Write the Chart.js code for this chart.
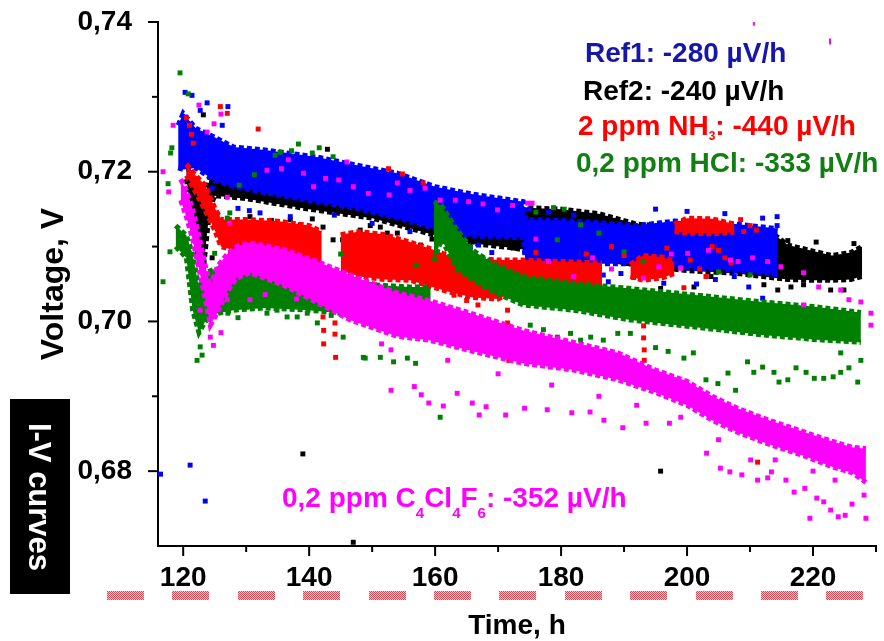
<!DOCTYPE html>
<html>
<head>
<meta charset="utf-8">
<title>Voltage vs time</title>
<script src="https://cdn.jsdelivr.net/npm/chart.js@4.4.1/dist/chart.umd.min.js"></script>
<style>
  html, body { margin: 0; padding: 0; background: #fff; }
  canvas { display: block; }
</style>
</head>
<body>
<canvas id="chart" width="884" height="641"></canvas>
<script>
// Axis ticks
const xTickValues = [120, 140, 160, 180, 200, 220];
const xMinorValues = [130, 150, 170, 190, 210, 230];
const yTickValues = [0.68, 0.70, 0.72, 0.74];
const yTickLabels = ['0,68', '0,70', '0,72', '0,74'];
const yMinorValues = [0.69, 0.71, 0.73];

// Ref1 (blue) dense band: time, upper and lower edge
const ref1Time = [119.2, 120, 122, 125, 128, 133, 141, 148, 154, 160, 166, 174, 174.4, 180, 186, 192, 198, 204, 210, 214.4];
const ref1Hi = [0.7262, 0.7278, 0.7258, 0.7246, 0.7233, 0.7229, 0.7220, 0.7208, 0.7198, 0.7180, 0.7170, 0.7160, 0.7136, 0.7135, 0.7132, 0.7128, 0.7134, 0.7133, 0.7128, 0.7124];
const ref1Lo = [0.7205, 0.7203, 0.7205, 0.7188, 0.7180, 0.7172, 0.7160, 0.7150, 0.7138, 0.7124, 0.7114, 0.7112, 0.7073, 0.7076, 0.7077, 0.7077, 0.7072, 0.7070, 0.7066, 0.7062];

// Ref2 (black)
const ref2Time = [120.5, 122.4, 123.2, 124.2, 125, 130, 140, 150, 160, 166, 172.5, 174.5, 180, 186, 192, 200, 208, 214, 216, 220, 223, 226, 227.8];
const ref2Hi = [0.7210, 0.7185, 0.7160, 0.7190, 0.7195, 0.7185, 0.7168, 0.7155, 0.7140, 0.7135, 0.7140, 0.7152, 0.7150, 0.7144, 0.7130, 0.7125, 0.7120, 0.7115, 0.7102, 0.7094, 0.7088, 0.7092, 0.7100];
const ref2Lo = [0.7190, 0.7085, 0.7070, 0.7150, 0.7168, 0.7164, 0.7150, 0.7138, 0.7115, 0.7104, 0.7098, 0.7095, 0.7090, 0.7085, 0.7075, 0.7068, 0.7064, 0.7058, 0.7056, 0.7055, 0.7055, 0.7056, 0.7060];

// 2 ppm NH3 (red), several runs
const nh3TimeA = [120.5, 122, 123.5, 125, 126, 130, 135, 140, 142];
const nh3HiA = [0.7210, 0.7195, 0.7182, 0.7152, 0.7136, 0.7136, 0.7134, 0.7128, 0.7120];
const nh3LoA = [0.7195, 0.7172, 0.7148, 0.7122, 0.7100, 0.7090, 0.7088, 0.7085, 0.7070];
const nh3TimeB = [145, 148, 152, 156, 160, 162, 166, 170, 174, 180, 186.5];
const nh3HiB = [0.7116, 0.7120, 0.7116, 0.7106, 0.7095, 0.7088, 0.7085, 0.7082, 0.7082, 0.7080, 0.7078];
const nh3LoB = [0.7068, 0.7060, 0.7056, 0.7055, 0.7045, 0.7040, 0.7032, 0.7030, 0.7045, 0.7045, 0.7045];
const nh3TimeC = [191, 193, 196, 198];
const nh3HiC = [0.7076, 0.7088, 0.7086, 0.7080];
const nh3LoC = [0.7060, 0.7055, 0.7058, 0.7064];
const nh3TimeD = [198, 200, 204, 207.5];
const nh3HiD = [0.7130, 0.7138, 0.7137, 0.7130];
const nh3LoD = [0.7120, 0.7118, 0.7117, 0.7119];

// 0,2 ppm HCl (green)
const hclTimeA = [118.8, 120.5, 121.5, 122.5, 123.5, 125, 128, 133, 140, 146, 152, 156, 159.3];
const hclHiA = [0.7128, 0.7115, 0.7090, 0.7045, 0.7065, 0.7070, 0.7068, 0.7065, 0.7058, 0.7052, 0.7048, 0.7046, 0.7046];
const hclLoA = [0.7100, 0.7085, 0.7015, 0.6985, 0.7000, 0.7010, 0.7015, 0.7018, 0.7015, 0.7010, 0.7005, 0.7002, 0.7000];
const hclTimeB = [159.8, 161, 163.5, 166, 169, 174, 182, 191, 201.7, 212, 220, 227.6];
const hclHiB = [0.7160, 0.7155, 0.7122, 0.7095, 0.7078, 0.7060, 0.7051, 0.7044, 0.7035, 0.7026, 0.7020, 0.7012];
const hclLoB = [0.7080, 0.7110, 0.7069, 0.7055, 0.7040, 0.7022, 0.7015, 0.7002, 0.6992, 0.6982, 0.6976, 0.6972];

// 0,2 ppm C4Cl4F6 (magenta)
const c4Time = [119.6, 120.5, 121.5, 122.5, 123.5, 124.3, 125.4, 127, 128.5, 130.6, 136, 141.3, 146.5, 154, 159, 166, 174, 182, 189, 195, 200, 204, 208, 213, 218.7, 223, 226.2, 228.4];
const c4Hi = [0.7190, 0.7175, 0.7150, 0.7115, 0.7075, 0.7046, 0.7073, 0.7090, 0.7100, 0.7105, 0.7096, 0.7080, 0.7062, 0.7038, 0.7028, 0.7010, 0.6988, 0.6972, 0.6958, 0.6935, 0.6920, 0.6900, 0.6884, 0.6868, 0.6852, 0.6840, 0.6832, 0.6830];
const c4Lo = [0.7162, 0.7140, 0.7110, 0.7070, 0.7030, 0.6995, 0.7011, 0.7040, 0.7058, 0.7065, 0.7048, 0.7025, 0.7002, 0.6980, 0.6975, 0.6960, 0.6944, 0.6935, 0.6922, 0.6905, 0.6888, 0.6868, 0.6852, 0.6836, 0.6820, 0.6806, 0.6798, 0.6785];

// scattered readings outside the dense bands [time, voltage]
const ref1Extra = [[116.4, 0.6796], [121.1, 0.6808], [123.5, 0.6760], [120.3, 0.7306], [121.4, 0.7302], [123.8, 0.7292], [127.1, 0.7287], [126.2, 0.7262], [122.7, 0.7282],
  [128.7, 0.7151], [130.5, 0.7148], [132.2, 0.7145], [137, 0.7140], [125.4, 0.7140], [126.4, 0.7122], [124.6, 0.7178], [144, 0.7142], [150, 0.7131], [156, 0.7120], [162, 0.7108],
  [165.6, 0.7099], [166.9, 0.7102], [169, 0.7092], [171.6, 0.7079], [179.4, 0.7073], [181.5, 0.7059], [183.5, 0.7066], [185.2, 0.7059], [186.7, 0.7062], [187.5, 0.7053],
  [189.5, 0.7064], [191.5, 0.7059], [196.3, 0.7051], [201.5, 0.7050], [204.5, 0.7056], [207.5, 0.7060], [209.8, 0.7046], [210.1, 0.7024], [212, 0.7031],
  [175, 0.7150], [178, 0.7146], [182, 0.7142], [195, 0.7150], [200, 0.7147], [206, 0.7144], [212, 0.7138], [214.3, 0.7140], [214.3, 0.7128]];
const ref2Extra = [[139, 0.6823], [195.8, 0.6800], [147, 0.6705], [123.2, 0.7276], [142.9, 0.7230], [130.6, 0.7140], [132.2, 0.7166], [134, 0.7135], [135.4, 0.7129],
  [137, 0.7136], [138.6, 0.7129], [140.5, 0.7137], [142.2, 0.7126], [143.8, 0.7109], [145.3, 0.7109], [146.5, 0.7109], [148.1, 0.7122], [149.7, 0.7128], [151.3, 0.7126],
  [152.4, 0.7118], [154, 0.7118], [124.6, 0.7085], [157.7, 0.7102], [159.5, 0.7110], [161.3, 0.7113], [163.5, 0.7110], [165.3, 0.7091], [165.9, 0.7106], [168.3, 0.7109],
  [170.9, 0.7106], [172.4, 0.7098], [195.8, 0.7044], [201.1, 0.7046], [203.8, 0.7060], [212.2, 0.7049], [214.4, 0.7042], [216.5, 0.7046], [218.5, 0.7049], [222.8, 0.7042],
  [224.9, 0.7042], [220.5, 0.7106], [216, 0.7108], [226.5, 0.7104]];
const nh3Extra = [[120.5, 0.7272], [121, 0.7262], [121.3, 0.7250], [121.6, 0.7238], [125.9, 0.7287], [127, 0.7278], [131.9, 0.7257], [152.6, 0.7204], [154.8, 0.7197], [158.1, 0.7185],
  [142.1, 0.7060], [142.1, 0.7042], [142.2, 0.7024], [142.2, 0.7006], [142.3, 0.6988], [142.3, 0.6970], [144.1, 0.6998], [144.1, 0.6983], [144.2, 0.6952],
  [166.8, 0.7040], [166.8, 0.7022], [166.9, 0.7004], [166.9, 0.6988], [167, 0.6972],
  [171.5, 0.7015], [171.5, 0.6998], [171.6, 0.6980], [171.6, 0.6964], [171.7, 0.6948],
  [193, 0.7030], [193, 0.7012], [193.1, 0.6994], [193.1, 0.6978], [193.2, 0.6962], [193.2, 0.6948], [211.2, 0.6812],
  [188, 0.7100], [190, 0.7088], [205, 0.7095], [207, 0.7078], [209, 0.7120], [203, 0.7060], [199.5, 0.7045], [176, 0.7092], [184, 0.7090],
  [194.5, 0.7070], [196.8, 0.7098], [200.5, 0.7082], [202, 0.7070], [204, 0.7100], [206, 0.7085], [208.5, 0.7136], [210, 0.7128], [211, 0.7122],
  [163, 0.7035], [165, 0.7028], [146, 0.7050], [150, 0.7045], [138, 0.7075], [134, 0.7080], [129, 0.7085], [127.5, 0.7092]];
const hclExtra = [[119.5, 0.7332], [120.8, 0.7304], [118.2, 0.7232], [118, 0.7225], [117.6, 0.7184], [116.8, 0.7053], [117.9, 0.7093], [138.3, 0.7237], [140.5, 0.7225],
  [141.6, 0.7232], [137.2, 0.7228], [135.4, 0.7226], [131.3, 0.7196], [128.9, 0.7182], [127, 0.7138], [134.6, 0.7222], [143.8, 0.7220], [127.4, 0.7145],
  [125, 0.7091], [127, 0.7053], [125.9, 0.7033], [127.1, 0.7011], [128.7, 0.7005], [130.1, 0.7019], [132.2, 0.7026], [133.3, 0.7011], [134.9, 0.7015], [136.5, 0.7006],
  [138.1, 0.7006], [139.7, 0.7011], [141.3, 0.6998], [143.5, 0.7008], [145.4, 0.6979], [148.6, 0.6952], [151.3, 0.6952], [122.7, 0.6966], [123, 0.6955], [122.2, 0.6948],
  [148.9, 0.6951], [153.4, 0.6946], [155.6, 0.6951], [156.9, 0.6944], [160.8, 0.6872],
  [165.1, 0.6999], [166.1, 0.6989], [167.2, 0.6984], [168.8, 0.6986], [170.4, 0.6982], [172, 0.6975], [173.6, 0.6975], [175.1, 0.6995], [177.2, 0.6989], [179.4, 0.6979],
  [181.5, 0.6984], [183.1, 0.6975], [184.7, 0.6979], [186.7, 0.6975], [189, 0.6984], [191, 0.6984],
  [199.5, 0.6951], [203, 0.6922], [204.9, 0.6917], [206.5, 0.6931], [207.7, 0.6908], [209.6, 0.6946], [210.6, 0.6932], [212, 0.6939], [213.8, 0.6932], [216, 0.6922],
  [217.3, 0.6938], [218.9, 0.6932], [220.2, 0.6924], [221.7, 0.6924], [223.2, 0.6926], [224.4, 0.6932], [225.7, 0.6938], [227.1, 0.6919], [224.4, 0.6958], [214.6, 0.6919],
  [227.6, 0.6948], [195, 0.6965], [197, 0.6960], [201, 0.6958],
  [178.8, 0.7152], [180.5, 0.7150], [183.1, 0.7129], [179.4, 0.7109], [176, 0.7146], [186, 0.7118], [190, 0.7093], [193, 0.7080], [199, 0.7072], [205, 0.7066], [210, 0.7062],
  [130, 0.7080], [145, 0.7090], [157, 0.7075]];
const c4Extra = [[118.4, 0.7262], [116.8, 0.7200], [117.7, 0.7173], [122.5, 0.7289], [126, 0.7277], [124.9, 0.7264], [123.8, 0.7253], [127, 0.7166], [127.4, 0.7131],
  [133.3, 0.7202], [135.6, 0.7204], [136.7, 0.7216], [139.1, 0.7198], [140.7, 0.7180], [142.6, 0.7191], [144.7, 0.7189], [146, 0.7213], [147, 0.7180], [149.4, 0.7171],
  [152.7, 0.7169], [154, 0.7185], [156, 0.7175], [158.4, 0.7178], [160.8, 0.7162], [163.2, 0.7162], [165.3, 0.7160], [167.6, 0.7157], [169.9, 0.7149], [172.3, 0.7155],
  [174.7, 0.7158], [175.4, 0.7158], [193.1, 0.7058], [195.5, 0.7073], [197.5, 0.7090], [199, 0.7071], [200.1, 0.7091], [203.4, 0.7095], [206.9, 0.7082], [208.1, 0.7080],
  [210.4, 0.7085], [212.8, 0.7080], [214.9, 0.7073], [218.5, 0.7065], [220.9, 0.7046], [224.4, 0.7042], [225.7, 0.7029], [227.6, 0.7026], [229.2, 0.7011], [229.2, 0.6995],
  [218.5, 0.7022], [176, 0.7110], [178, 0.7080], [182, 0.7060], [188, 0.7070], [185, 0.7085],
  [122.7, 0.7015], [124.3, 0.6979], [124.8, 0.6968], [127, 0.7029], [130.6, 0.7029], [133, 0.7036], [138, 0.7030], [126, 0.6985], [151.5, 0.6970], [153, 0.6962],
  [153, 0.6908], [156.7, 0.6913], [157.8, 0.6902], [159, 0.6891], [161.3, 0.6887], [163.5, 0.6904], [165.9, 0.6891], [167, 0.6875], [168.1, 0.6886], [171.2, 0.6875],
  [174.2, 0.6884], [177.8, 0.6882], [181.7, 0.6878], [184.6, 0.6879], [186.8, 0.6868], [189.8, 0.6858], [193.5, 0.6864], [197.2, 0.6864], [203.1, 0.6824], [205.3, 0.6804],
  [206.8, 0.6799], [208.7, 0.6795], [211.2, 0.6788], [212.8, 0.6791], [217, 0.6772], [218.7, 0.6777], [220.6, 0.6764], [221.7, 0.6759], [222.8, 0.6748], [219.5, 0.6737],
  [224, 0.6739], [225.1, 0.6741], [226.2, 0.6756], [228.4, 0.6737], [228.1, 0.6768], [210.1, 0.6815], [213.4, 0.6799], [215.7, 0.6788],
  [162, 0.6948], [170, 0.6930], [178.5, 0.6915], [186, 0.6900], [192, 0.6888], [199, 0.6872], [205, 0.6842], [214, 0.6815], [220, 0.6800], [223.5, 0.6788]];
const c4Specks = [[210.6, 0.7399], [222.7, 0.7374]];

const BLUE = '#0000ff', BLACK = '#000000', RED = '#ff0000', GREEN = '#008000', MAGENTA = '#ff00ff';
const FONT = '"Liberation Sans", Arial, Helvetica, sans-serif';

Chart.defaults.font.family = FONT;
Chart.defaults.color = '#000';

const datasets = [];

// a band is two lines (upper, lower) with the gap filled in
function addBand(time, hi, lo, color, order) {
  const edge = {
    borderColor: color,
    backgroundColor: color,
    borderWidth: 5,
    borderDash: [5, 3],
    pointRadius: 0,
    tension: 0,
    order: order
  };
  datasets.push(Object.assign({ data: time.map((t, i) => ({ x: t, y: hi[i] })), fill: '+1' }, edge));
  datasets.push(Object.assign({ data: time.map((t, i) => ({ x: t, y: lo[i] })), fill: false }, edge));
}

function addPoints(points, color, order) {
  datasets.push({
    data: points.map(p => ({ x: p[0], y: p[1] })),
    showLine: false,
    pointStyle: 'rect',
    pointRadius: 3.5,
    pointBorderWidth: 0,
    pointBackgroundColor: color,
    order: order
  });
}

// smaller order draws on top
addBand(ref2Time, ref2Hi, ref2Lo, BLACK, 5);
addPoints(ref2Extra, BLACK, 5);
addBand(ref1Time, ref1Hi, ref1Lo, BLUE, 4);
addPoints(ref1Extra, BLUE, 4);
addBand(nh3TimeA, nh3HiA, nh3LoA, RED, 3);
addBand(nh3TimeB, nh3HiB, nh3LoB, RED, 3);
addBand(nh3TimeC, nh3HiC, nh3LoC, RED, 3);
addBand(nh3TimeD, nh3HiD, nh3LoD, RED, 3);
addPoints(nh3Extra, RED, 3);
addBand(hclTimeA, hclHiA, hclLoA, GREEN, 2);
addBand(hclTimeB, hclHiB, hclLoB, GREEN, 2);
addPoints(hclExtra, GREEN, 2);
addBand(c4Time, c4Hi, c4Lo, MAGENTA, 1);
addPoints(c4Extra, MAGENTA, 1);
datasets.push({
  data: c4Specks.map(p => ({ x: p[0], y: p[1] })),
  showLine: false,
  pointStyle: 'line',
  rotation: 90,
  pointRadius: 3,
  pointBorderWidth: 2,
  pointBorderColor: MAGENTA,
  order: 1
});

// hatched pink stripe pattern
function makeHatch(ctx) {
  const c = document.createElement('canvas');
  c.width = 2; c.height = 2;
  const p = c.getContext('2d');
  p.fillStyle = '#f3c8cb'; p.fillRect(0, 0, 2, 2);
  p.fillStyle = '#d04a55'; p.fillRect(0, 0, 1, 1); p.fillRect(1, 1, 1, 1);
  return ctx.createPattern(c, 'repeat');
}

// draws text with subscript parts: [[text, isSub], ...]
function drawRich(ctx, parts, x, y, color, size, subSize, subDrop) {
  ctx.fillStyle = color;
  ctx.textAlign = 'left';
  ctx.textBaseline = 'alphabetic';
  let cx = x;
  parts.forEach(([txt, sub]) => {
    ctx.font = 'bold ' + (sub ? subSize : size) + 'px ' + FONT;
    ctx.fillText(txt, cx, sub ? y + subDrop : y);
    cx += ctx.measureText(txt).width;
  });
}

const decor = {
  id: 'decor',
  afterDraw(chart) {
    const { ctx, scales: { x, y } } = chart;
    ctx.save();
    ctx.strokeStyle = '#000';
    ctx.lineWidth = 2;
    // tick marks, outward
    xTickValues.forEach(v => { const px = x.getPixelForValue(v); ctx.beginPath(); ctx.moveTo(px, y.bottom); ctx.lineTo(px, y.bottom + 10); ctx.stroke(); });
    xMinorValues.forEach(v => { const px = x.getPixelForValue(v); ctx.beginPath(); ctx.moveTo(px, y.bottom); ctx.lineTo(px, y.bottom + 6); ctx.stroke(); });
    yTickValues.forEach(v => { const py = y.getPixelForValue(v); ctx.beginPath(); ctx.moveTo(x.left, py); ctx.lineTo(x.left - 10, py); ctx.stroke(); });
    yMinorValues.forEach(v => { const py = y.getPixelForValue(v); ctx.beginPath(); ctx.moveTo(x.left, py); ctx.lineTo(x.left - 6, py); ctx.stroke(); });

    // slope notes
    drawRich(ctx, [['Ref1: -280 \u00b5V/h', false]], 585, 62, '#1616a8', 28, 14, 6);
    drawRich(ctx, [['Ref2: -240 \u00b5V/h', false]], 583, 100, '#000000', 28, 14, 6);
    drawRich(ctx, [['2 ppm NH', false], ['3', true], [': -440 \u00b5V/h', false]], 578, 135, '#ff0000', 28, 12, 5);
    drawRich(ctx, [['0,2 ppm HCl: -333 \u00b5V/h', false]], 576, 172, '#117f11', 28, 14, 6);
    drawRich(ctx, [['0,2 ppm C', false], ['4', true], ['Cl', false], ['4', true], ['F', false], ['6', true], [': -352 \u00b5V/h', false]], 282, 507, '#ff00ff', 28, 15, 11);

    // black tag on the left
    ctx.fillStyle = '#000';
    ctx.fillRect(10, 399, 60, 195);
    ctx.translate(29, 497);
    ctx.rotate(Math.PI / 2);
    ctx.fillStyle = '#fff';
    ctx.font = 'bold 31px ' + FONT;
    ctx.textAlign = 'center';
    ctx.textBaseline = 'alphabetic';
    ctx.fillText('I-V curves', 0, 0);
    ctx.setTransform(1, 0, 0, 1, 0, 0);

    // dashed hatched strip under the axis
    ctx.fillStyle = makeHatch(ctx);
    for (let i = 0; i < 12; i++) {
      ctx.fillRect(Math.round(107 + i * 65.4), 591, 37, 9);
    }
    ctx.restore();
  }
};

new Chart(document.getElementById('chart'), {
  type: 'line',
  data: { datasets },
  plugins: [decor],
  options: {
    responsive: false,
    animation: false,
    events: [],
    layout: { padding: { left: 0, right: 8, top: 22, bottom: 0 } },
    plugins: { legend: { display: false }, tooltip: { enabled: false } },
    scales: {
      x: {
        type: 'linear',
        min: 116,
        max: 230,
        grid: { display: false },
        border: { display: true, color: '#000', width: 2 },
        afterBuildTicks: s => { s.ticks = xTickValues.map(v => ({ value: v })); },
        afterFit: s => { s.height = 95; s.paddingLeft = 0; s.paddingRight = 0; },
        ticks: { autoSkip: false, maxRotation: 0, padding: 7, color: '#000', font: { size: 28, weight: 'bold' } },
        title: { display: true, text: 'Time, h', color: '#000', font: { size: 28, weight: 'bold', lineHeight: 1 }, padding: { top: 0, bottom: 1 } }
      },
      y: {
        min: 0.67,
        max: 0.74,
        grid: { display: false },
        border: { display: true, color: '#000', width: 2 },
        afterBuildTicks: s => { s.ticks = yTickValues.map(v => ({ value: v })); },
        afterFit: s => { s.width = 158; s.paddingTop = 0; s.paddingBottom = 0; },
        ticks: {
          padding: 18,
          color: '#000',
          font: { size: 28, weight: 'bold' },
          callback: v => yTickLabels[yTickValues.indexOf(v)]
        },
        title: { display: true, text: 'Voltage, V', color: '#000', font: { size: 32, weight: 'bold', lineHeight: 1 }, padding: { top: 38, bottom: 0 } }
      }
    }
  }
});
</script>
</body>
</html>
